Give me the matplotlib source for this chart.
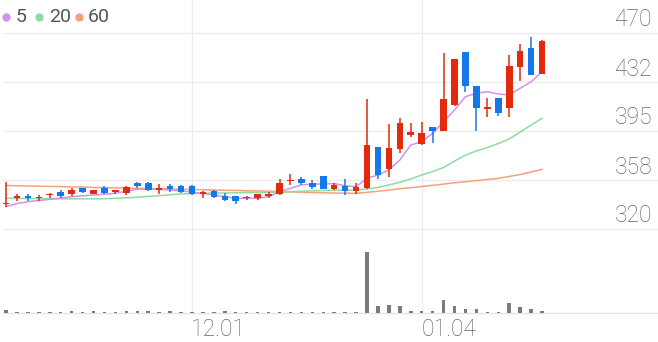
import matplotlib
matplotlib.use("Agg")
import matplotlib.pyplot as plt
import matplotlib.transforms as mtransforms
import numpy as np

# ---------------- data ----------------
opens = [338.8, 343.7, 345.5, 343.7, 346.0, 348.5, 347.0, 351.1, 347.0, 351.6,
         348.5, 347.6, 355.5, 355.2, 350.1, 352.7, 353.1, 353.1, 347.0, 349.1,
         345.5, 345.0, 343.5, 343.5, 345.5, 346.8, 356.5, 358.0, 355.4, 360.6,
         350.4, 352.9, 348.9, 351.1, 383.0, 365.7, 381.0, 391.9, 385.1, 397.8,
         395.2, 414.9, 455.7, 429.4, 412.1, 420.5, 412.4, 443.7, 458.7, 438.6]
highs = [356.0, 346.8, 346.6, 346.0, 347.6, 349.8, 351.4, 351.1, 350.1, 353.1,
         350.1, 353.1, 355.7, 356.2, 354.2, 354.2, 353.4, 353.4, 349.1, 349.6,
         347.6, 345.0, 345.5, 346.6, 348.1, 357.9, 362.1, 359.6, 357.5, 360.6,
         355.0, 358.5, 355.4, 419.3, 383.0, 400.4, 404.7, 401.4, 402.1, 397.8,
         454.5, 449.9, 455.7, 429.4, 420.0, 420.5, 453.2, 461.6, 466.7, 464.6]
lows = [336.8, 341.4, 341.4, 341.4, 343.7, 344.0, 345.5, 347.6, 346.6, 347.0,
        347.0, 346.0, 351.6, 349.1, 347.0, 348.5, 347.3, 346.0, 344.0, 344.0,
        341.4, 339.4, 342.0, 342.4, 344.0, 346.3, 353.9, 353.4, 350.8, 350.6,
        349.8, 346.3, 346.8, 350.8, 358.0, 360.0, 378.4, 390.2, 384.3, 385.6,
        395.2, 414.1, 425.1, 395.2, 405.5, 406.5, 405.5, 433.3, 437.9, 438.6]
closes = [339.9, 345.2, 343.5, 344.5, 347.0, 345.5, 350.1, 348.1, 350.1, 347.6,
          349.1, 352.1, 352.7, 350.1, 351.1, 350.6, 348.1, 346.6, 348.5, 344.5,
          342.4, 341.4, 344.5, 346.6, 346.6, 355.4, 357.5, 355.0, 352.4, 350.8,
          353.9, 349.3, 352.4, 384.3, 361.3, 381.8, 400.9, 394.5, 393.7, 395.2,
          419.5, 449.9, 429.4, 412.4, 413.1, 408.5, 444.7, 456.4, 437.9, 463.9]
volumes = [54, 16, 16, 21, 16, 16, 25, 21, 30, 16,
           16, 25, 30, 30, 16, 30, 16, 16, 21, 16,
           25, 16, 20, 16, 16, 20, 16, 16, 16, 21,
           13, 21, 21, 1000, 115, 126, 110, 33, 33, 33,
           208, 110, 66, 71, 13, 21, 164, 98, 66, 33]
ma5 = [337.1, 339.5, 340.9, 341.8, 342.7, 343.7, 344.7, 345.4, 346.0, 346.6,
       347.3, 348.9, 350.4, 350.6, 350.4, 349.8, 349.1, 348.3, 347.2, 346.0,
       344.7, 343.5, 343.5, 343.5, 344.7, 348.5, 351.1, 353.7, 354.4, 354.4,
       354.8, 353.1, 352.4, 358.8, 361.3, 365.2, 372.8, 384.3, 386.8, 393.2,
       402.1, 411.1, 421.3, 423.9, 425.1, 423.3, 422.6, 427.7, 432.7, 440.4]
ma20 = [343.5, 343.4, 343.3, 343.3, 343.2, 343.1, 343.1, 343.1, 343.1, 343.2,
        343.5, 343.9, 344.3, 344.9, 345.5, 346.2, 346.8, 347.2, 347.4, 347.6,
        347.6, 347.7, 347.8, 347.9, 348.0, 348.3, 348.6, 348.9, 349.2, 349.5,
        349.6, 349.7, 349.8, 350.6, 351.8, 353.7, 355.7, 358.3, 361.3, 364.0,
        367.1, 372.0, 376.6, 379.7, 382.4, 385.4, 388.9, 394.2, 399.6, 404.7]
ma60 = [353.3, 353.1, 352.9, 352.8, 352.6, 352.4, 352.2, 352.1, 351.8, 351.7,
        351.5, 351.4, 351.1, 351.0, 350.8, 350.6, 350.4, 350.2, 350.0, 349.8,
        349.6, 349.5, 349.2, 349.1, 348.9, 348.6, 348.4, 348.2, 347.9, 347.7,
        347.5, 347.4, 347.3, 348.1, 348.9, 349.8, 350.8, 351.6, 352.5, 353.4,
        354.4, 355.4, 356.2, 357.0, 357.9, 358.8, 360.2, 361.7, 363.6, 365.7]
tick_idx = [17, 38]
tick_labels = ["12.01", "01.04"]
ytick_vals = [470, 432.5, 395, 357.5, 320]
ytick_labels = ["470", "432", "395", "358", "320"]
ma_names = ["5", "20", "60"]

# ---------------- style ----------------
W, H = 658, 342
RED = "#e5290c"
BLUE = "#1677ea"
VOLC = "#7b7b7b"
GRID = "#ececec"
TXT = "#666666"
MA_COLORS = ["#d391ea", "#8fdba1", "#f7a07c"]
FONT = "Roboto"

fig = plt.figure(figsize=(W / 100, H / 100), dpi=100)
fig.patch.set_facecolor("white")

# pixel layout
px0, dx = 6.0, 10.94          # x px of first candle, px per candle
xl = (0 - px0) / dx
xr = (W - px0) / dx
ppu = 196.0 / 150.0           # px per price unit
y_top = 470 + 33 / ppu
y_bot = 320 - (H - 229) / ppu

ax = fig.add_axes([0, 0, 1, 1])
ax.set_xlim(xl, xr)
ax.set_ylim(y_bot, y_top)
ax.axis("off")

vbase = 313
vh = 73
vax = fig.add_axes([0, (H - vbase) / H, 1, vh / H])
vax.set_xlim(xl, xr)
vax.set_ylim(0, max(volumes) * vh / 61.0)
vax.axis("off")
vax.patch.set_alpha(0)

x = np.arange(len(closes))

# grid lines
for v in ytick_vals:
    ax.axhline(v, xmin=3 / W, xmax=1, color=GRID, lw=1.0, zorder=0)
ax.axhline(470 - (vbase - 33) / ppu, xmin=3 / W, xmax=1, color="#e4e4e4", lw=1.0, zorder=0)
for t in tick_idx:
    ax.axvline(t, ymin=(H - vbase) / H, ymax=1, color=GRID, lw=1.0, zorder=0)

# moving averages
for vals, c in zip([ma60, ma20, ma5], [MA_COLORS[2], MA_COLORS[1], MA_COLORS[0]]):
    ax.plot(x, vals, color=c, lw=1.1, zorder=2, solid_capstyle="round")

# candles
o = np.array(opens); c = np.array(closes)
cols = [RED if cc >= oo else BLUE for oo, cc in zip(o, c)]
ax.vlines(x, lows, highs, colors=cols, lw=1.1, zorder=3)
bottoms = np.minimum(o, c)
heights = np.maximum(np.abs(c - o), 1.0)
ax.bar(x, heights, bottom=bottoms, width=0.6, color=cols, zorder=4, linewidth=0)

# volume
vax.bar(x, volumes, width=0.32, color=VOLC, linewidth=0)

# y labels (right)
for v, lab in zip(ytick_vals, ytick_labels):
    ax.text(652 / W, v + 13 / ppu, lab, transform=mtransforms.blended_transform_factory(ax.transAxes, ax.transData),
            ha="right", va="center", fontsize=16.5, color=TXT, family=FONT, fontweight="light")

# x labels
tr = mtransforms.blended_transform_factory(ax.transData, fig.transFigure)
for t, lab in zip(tick_idx, tick_labels):
    ax.text(t - 0.05, (H - 329) / H, lab, transform=tr, ha="left", va="center",
            fontsize=16.5, color=TXT, family=FONT, fontweight="light")

# legend
dot_x = [6, 39.3, 79.3]
txt_x = [16, 49, 88]
ly = 16.8
for dxp, txp, name, col in zip(dot_x, txt_x, ma_names, MA_COLORS):
    fig.add_artist(plt.Line2D([dxp / W], [(H - ly) / H], marker="o", ms=6, color=col,
                              markeredgewidth=0, transform=fig.transFigure, linestyle="none"))
    fig.text(txp / W, (H - ly) / H, name, ha="left", va="center", fontsize=14,
             color="#555555", family=FONT)

fig.savefig("out.png", dpi=100, facecolor="white")
